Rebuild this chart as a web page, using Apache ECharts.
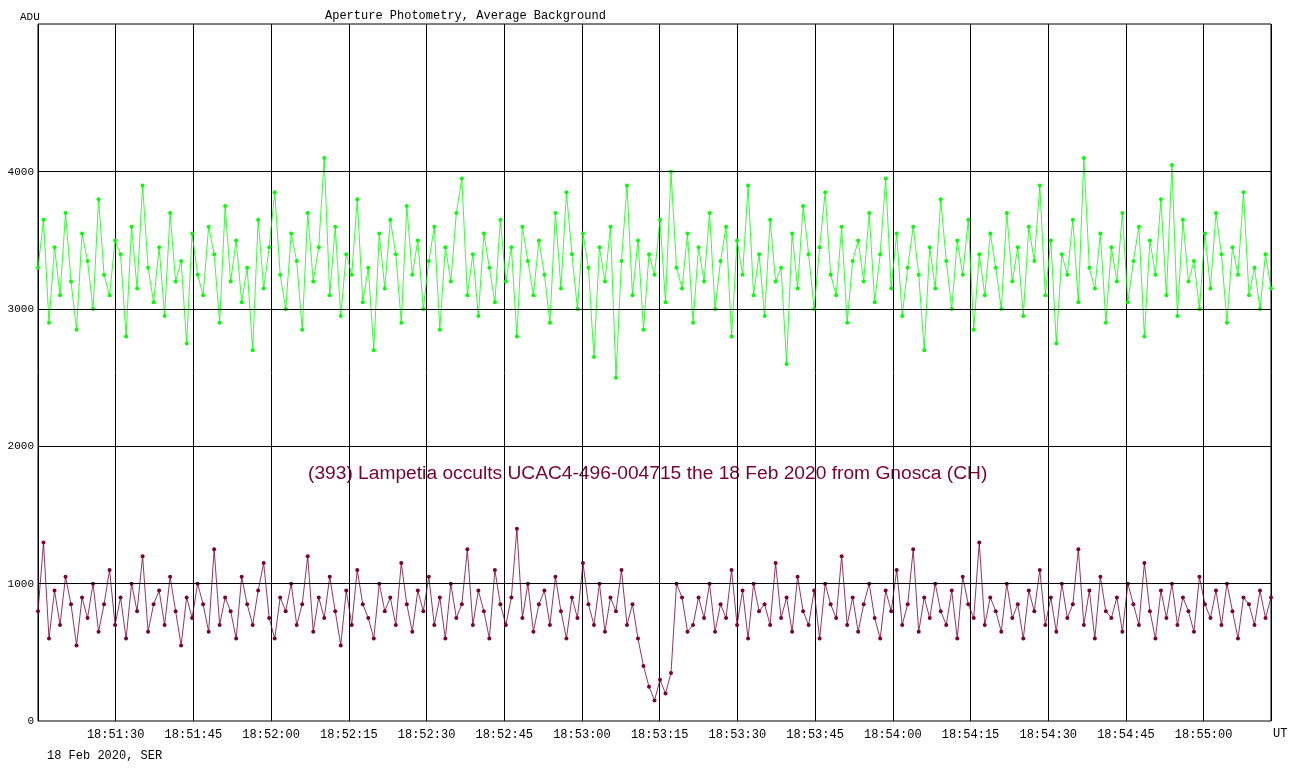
<!DOCTYPE html><html><head><meta charset="utf-8">
<script src="https://cdn.jsdelivr.net/npm/echarts@6/dist/echarts.min.js"></script>
<style>html,body{margin:0;background:#fff}#c{width:1296px;height:774px}</style></head><body><div id="c"></div>
<script>
const startSec = 0; // 18:51:15
const stepSec = 238/224;
const xTickLabels = ['18:51:30','18:51:45','18:52:00','18:52:15','18:52:30','18:52:45','18:53:00','18:53:15','18:53:30','18:53:45','18:54:00','18:54:15','18:54:30','18:54:45','18:55:00'];
const yGridValues = [1000,2000,3000,4000];
const green = [3300,3650,2900,3450,3100,3700,3200,2850,3550,3350,3000,3800,3250,3100,3500,
3400,2800,3600,3150,3900,3300,3050,3450,2950,3700,3200,3350,2750,3550,3250,
3100,3600,3400,2900,3750,3200,3500,3050,3300,2700,3650,3150,3450,3850,3250,
3000,3550,3350,2850,3700,3200,3450,4100,3100,3600,2950,3400,3250,3800,3050,
3300,2700,3550,3150,3650,3400,2900,3750,3250,3500,3000,3350,3600,2850,3450,
3200,3700,3950,3100,3400,2950,3550,3300,3050,3650,3200,3450,2800,3600,3350,
3100,3500,3250,2900,3700,3150,3850,3400,3000,3550,3300,2650,3450,3200,3600,
2500,3350,3900,3100,3500,2850,3400,3250,3650,3050,4000,3300,3150,3550,2900,
3450,3200,3700,3000,3350,3600,2800,3500,3250,3900,3100,3400,2950,3650,3200,
3300,2600,3550,3150,3750,3400,3000,3450,3850,3250,3100,3600,2900,3350,3500,
3200,3700,3050,3400,3950,3150,3550,2950,3300,3600,3250,2700,3450,3150,3800,
3350,3000,3500,3250,3650,2850,3400,3100,3550,3300,3000,3700,3200,3450,2950,
3600,3350,3900,3100,3500,2750,3400,3250,3650,3050,4100,3300,3150,3550,2900,
3450,3200,3700,3050,3350,3600,2800,3500,3250,3800,3100,4050,2950,3650,3200,
3350,3000,3550,3150,3700,3400,2900,3450,3250,3850,3100,3300,3000,3400,3150];
const red = [800,1300,600,950,700,1050,850,550,900,750,1000,650,850,1100,700,
900,600,1000,800,1200,650,850,950,700,1050,800,550,900,750,1000,
850,650,1250,700,900,800,600,1050,850,700,950,1150,750,600,900,
800,1000,700,850,1200,650,900,750,1050,800,550,950,700,1100,850,
750,600,1000,800,900,700,1150,850,650,950,800,1050,700,900,600,
1000,750,850,1250,700,950,800,600,1100,850,700,900,1400,750,1000,
650,850,950,700,1050,800,600,900,750,1150,850,700,1000,650,900,
800,1100,700,850,600,400,250,150,300,200,350,1000,900,650,700,
900,750,1000,650,850,750,1100,700,950,600,1000,800,850,700,1150,
750,900,650,1050,800,700,950,600,1000,850,750,1200,700,900,650,
850,1000,750,600,950,800,1100,700,850,1250,650,900,750,1000,800,
700,950,600,1050,850,750,1300,700,900,800,650,1000,750,850,600,
950,800,1100,700,900,650,1000,750,850,1250,700,950,600,1050,800,
750,900,650,1000,850,700,1150,800,600,950,750,1000,700,900,800,
650,1050,850,750,950,700,1000,800,600,900,850,700,950,750,900];
const pts = a => a.map((v,i)=>[startSec+i*stepSec, v]);
const mono = 'Liberation Mono';
const ch = echarts.init(document.getElementById('c'));
ch.setOption({
  animation:false,
  grid:{left:38,right:25,top:24,bottom:53,containLabel:false,outerBoundsMode:'none',show:true,borderColor:'#000',borderWidth:1},
  title:[{text:'Aperture Photometry, Average Background',left:320,top:5,textStyle:{fontFamily:mono,fontSize:12,fontWeight:'normal',color:'#000'}}],
  graphic:[
    {type:'text',left:20,top:12,style:{text:'ADU',font:'11px '+mono,fill:'#000'}},
    {type:'text',left:1273,top:728,style:{text:'UT',font:'12px '+mono,fill:'#000'}},
    {type:'text',left:47,top:750,style:{text:'18 Feb 2020, SER',font:'12px '+mono,fill:'#000'}},
    {type:'text',left:308,top:464,style:{text:'(393) Lampetia occults UCAC4-496-004715 the 18 Feb 2020 from Gnosca (CH)',font:'19.2px "Liberation Sans"',fill:'#7a0030'}}
  ],
  xAxis:{type:'value',min:0,max:238,interval:15,
    axisLine:{show:false},axisTick:{show:false},
    splitLine:{show:true,lineStyle:{color:'#000',width:1}},
    axisLabel:{fontFamily:mono,fontSize:12,color:'#000',margin:8,showMaxLabel:false,showMinLabel:false,
      formatter:v=>{if(v%15!==0)return '';const i=v/15-1;return i>=0&&i<xTickLabels.length?xTickLabels[i]:'';}}},
  yAxis:{type:'value',min:0,max:5076,interval:1000,
    axisLine:{show:false},axisTick:{show:false},
    splitLine:{show:false},
    axisLabel:{fontFamily:mono,fontSize:11,color:'#000',margin:4,showMaxLabel:false,formatter:v=>(v%1000===0&&v<5000)?String(v):''}},
  series:[
    {type:'line',data:pts(green),symbol:'circle',symbolSize:4,showSymbol:true,lineStyle:{width:0.8,color:'#00ff00'},itemStyle:{color:'#00ff00'},
     markLine:{silent:true,symbol:'none',label:{show:false},lineStyle:{color:'#000',width:1,type:'solid'},data:yGridValues.map(v=>({yAxis:v}))},z:1},
    {type:'line',data:pts(red),symbol:'circle',symbolSize:4,showSymbol:true,lineStyle:{width:0.8,color:'#7a0035'},itemStyle:{color:'#7a0035'}}
  ]
});
</script></body></html>
